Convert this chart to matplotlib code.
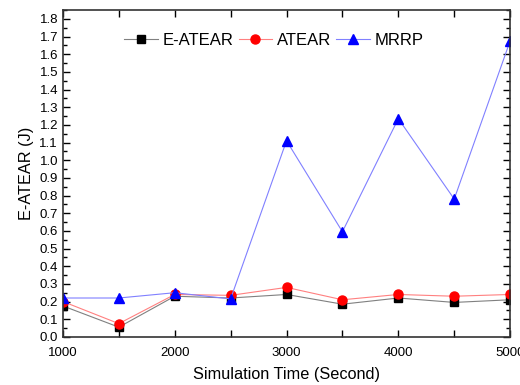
import numpy as np
import matplotlib
matplotlib.use("Agg")
import matplotlib.pyplot as plt
from matplotlib.ticker import MultipleLocator

plt.rcParams['font.family'] = ['Liberation Sans', 'DejaVu Sans']

# simulation time (s)
time = [1000, 1500, 2000, 2500, 3000, 3500, 4000, 4500, 5000]
e_atear = [0.175, 0.055, 0.23, 0.22, 0.24, 0.185, 0.22, 0.195, 0.21]
atear = [0.20, 0.075, 0.24, 0.235, 0.28, 0.21, 0.24, 0.23, 0.24]
mrrp = [0.22, 0.22, 0.25, 0.215, 1.11, 0.595, 1.235, 0.78, 1.675]

fig = plt.figure(figsize=(5.2, 3.85), dpi=100)
ax = fig.add_axes([0.121, 0.125, 0.860, 0.849])

ax.plot(time, e_atear, color='#808080', lw=0.8, marker='s', ms=5.5,
        mfc='black', mec='black', label='E-ATEAR')
ax.plot(time, atear, color='#ff8080', lw=0.8, marker='o', ms=6.5,
        mfc='red', mec='red', label='ATEAR')
ax.plot(time, mrrp, color='#8080ff', lw=0.8, marker='^', ms=7,
        mfc='blue', mec='blue', label='MRRP')

ax.set_xlim(1000, 5000)
ax.set_ylim(0, 1.85)
ax.xaxis.set_major_locator(MultipleLocator(1000))
ax.xaxis.set_minor_locator(MultipleLocator(500))
ax.yaxis.set_major_locator(MultipleLocator(0.1))
ax.yaxis.set_minor_locator(MultipleLocator(0.05))
ax.tick_params(which='both', direction='in', top=True, right=True, labelsize=9.5)
ax.tick_params(which='major', length=5, width=1)
ax.tick_params(which='minor', length=3, width=1)
ax.tick_params(axis='x', which='minor', length=5)
ax.tick_params(axis='x', pad=7)
for s in ax.spines.values():
    s.set_linewidth(1.2)
    s.set_color('#333333')

ax.set_xlabel('Simulation Time (Second)', fontsize=11.7, labelpad=6)
ax.set_ylabel('E-ATEAR (J)', fontsize=11.7)

ax.legend(loc='upper center', ncol=3, frameon=False, fontsize=12,
          bbox_to_anchor=(0.472, 0.975), handlelength=2.0, columnspacing=0.3,
          handletextpad=0.3)

fig.savefig('out.png', dpi=100)
